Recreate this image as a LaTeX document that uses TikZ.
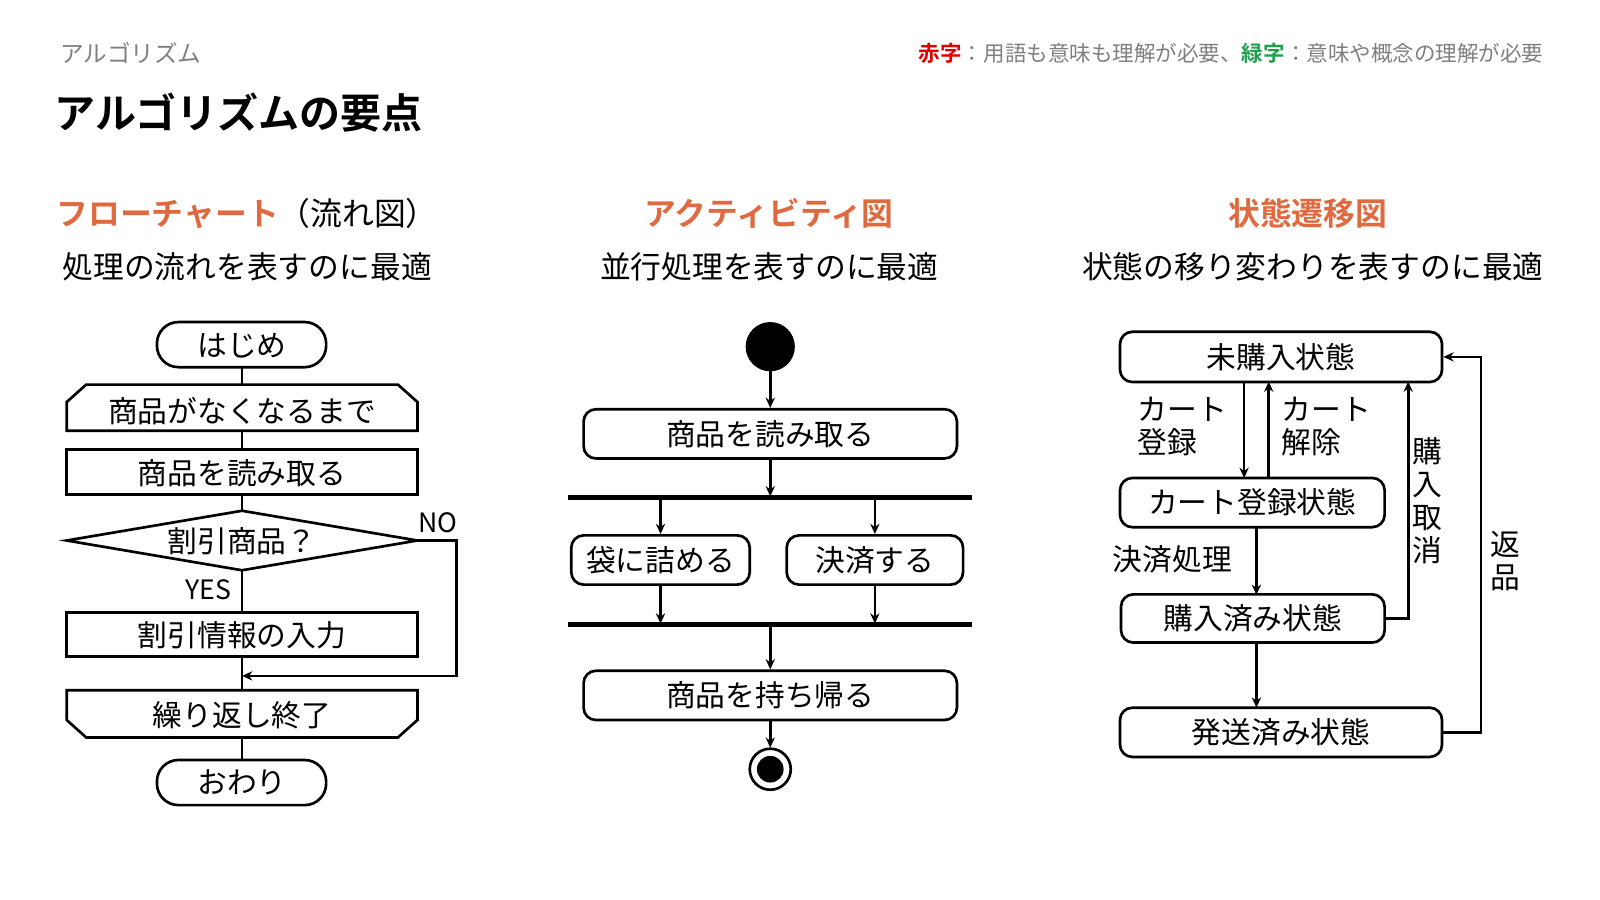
\documentclass[tikz,border=0pt]{standalone}
\usepackage{fontspec}
\setmainfont{Noto Sans CJK JP}
\newfontfamily\jpb{Noto Sans CJK JP Bold}
\usetikzlibrary{arrows.meta}
\definecolor{hd}{HTML}{E06A3F}
\definecolor{gr}{HTML}{7F7F7F}
\definecolor{rd}{HTML}{E00000}
\definecolor{gn}{HTML}{22A050}
\begin{document}
\begin{tikzpicture}[x=0.5pt,y=-0.5pt,
  ln/.style={line width=1.3pt},
  ar/.style={ln,-{Stealth[length=5pt,width=4.5pt]}},
  tx/.style={font=\fontsize{14.5}{16}\selectfont,inner sep=0},
  box/.style={ln,draw,rounded corners=6pt},
  hdr/.style={font=\fontsize{15.5}{18}\selectfont,text=hd},
  sub/.style={font=\fontsize{15}{18}\selectfont}]
\useasboundingbox (0,0) rectangle (1560,877.5);
\node[anchor=west,text=gr,font=\fontsize{11.5}{13}\selectfont] (crumb) at (52,52) {アルゴリズム};
\node[anchor=west,font=\jpb\fontsize{20}{24}\selectfont] (title) at (46,110) {アルゴリズムの要点};
\node[anchor=east,font=\fontsize{10.5}{13}\selectfont,text=gr] (legend) at (1512,52) {{\jpb\color{rd}赤字}：用語も意味も理解が必要、{\jpb\color{gn}緑字}：意味や概念の理解が必要};
\node[hdr] (h1) at (241,208) {\jpb フローチャート{\color{black}\rmfamily（流れ図）}};
\node[sub] (s1) at (241,260) {処理の流れを表すのに最適};
\node[hdr] (h2) at (750,208) {\jpb アクティビティ図};
\node[sub] (s2) at (750,260) {並行処理を表すのに最適};
\node[hdr] (h3) at (1275,208) {\jpb 状態遷移図};
\node[sub] (s3) at (1280,260) {状態の移り変わりを表すのに最適};
% flowchart
\draw[ln,rounded corners=10.5pt] (153,314) rectangle (318,358);
\node[tx] (f1) at (236,337) {はじめ};
\draw[ln] (65,420) -- (65,392) -- (84,375) -- (388,375) -- (407,392) -- (407,420) -- cycle;
\node[tx] (f2) at (236,401) {商品がなくなるまで};
\draw[ln] (65,438) rectangle (407,482);
\node[tx] (f3) at (236,461) {商品を読み取る};
\draw[ln] (65,527) -- (236,498) -- (407,527) -- (236,556) -- cycle;
\node[tx] (f4) at (236,528) {割引商品？};
\draw[ln] (65,597) rectangle (407,640);
\node[tx] (f5) at (236,619) {割引情報の入力};
\draw[ln] (65,673) -- (407,673) -- (407,702) -- (388,719) -- (84,719) -- (65,702) -- cycle;
\node[tx] (f6) at (236,697) {繰り返し終了};
\draw[ln,rounded corners=10.5pt] (153,741) rectangle (318,785);
\node[tx] (f7) at (236,763) {おわり};
\draw[ln] (236,358)--(236,375) (236,420)--(236,438) (236,482)--(236,498) (236,556)--(236,597) (236,640)--(236,673) (236,719)--(236,741);
\draw[ar] (407,527) -- (445,527) -- (445,659) -- (236,659);
\node[tx,font=\fontsize{13}{14}\selectfont] (no) at (427,510) {NO};
\node[tx,font=\fontsize{13}{14}\selectfont] (yes) at (203,575) {YES};
% activity
\fill (751,338) circle (24);
\node[box,minimum width=182pt,minimum height=24pt,tx] (a1) at (751,423) {商品を読み取る};
\draw[ar] (751,362) -- (a1.north);
\draw[line width=2.5pt] (554,485) -- (948,485);
\draw[line width=2.5pt] (554,609) -- (948,609);
\draw[ar] (a1.south) -- (751,484);
\node[box,minimum width=87pt,minimum height=24pt,tx] (a2) at (644,546) {袋に詰める};
\node[box,minimum width=86pt,minimum height=24pt,tx] (a3) at (853,546) {決済する};
\draw[ar] (644,486) -- (a2.north);
\draw[ar] (853,486) -- (a3.north);
\draw[ar] (a2.south) -- (644,608);
\draw[ar] (a3.south) -- (853,608);
\node[box,minimum width=182pt,minimum height=24pt,tx] (a4) at (751,678) {商品を持ち帰る};
\draw[ar] (751,610) -- (a4.north);
\draw[ln] (751,750) circle (20);
\fill (751,750) circle (13);
\draw[ar] (a4.south) -- (751,729);
% state
\node[box,minimum width=157pt,minimum height=24.5pt,tx] (t1) at (1249,348) {未購入状態};
\node[box,minimum width=129pt,minimum height=24pt,tx] (t2) at (1221,490) {カート登録状態};
\node[box,minimum width=128.5pt,minimum height=23.5pt,tx] (t3) at (1221.5,603) {購入済み状態};
\node[box,minimum width=157pt,minimum height=24pt,tx] (t4) at (1249,714) {発送済み状態};
\draw[ar] (1213,372) -- (1213,466);
\draw[ar] (1237,466) -- (1237,372);
\draw[ar] (1225,514) -- (1225,580);
\draw[ar] (1225,627) -- (1225,690);
\draw[ar] (t3.east) -- (1373,603) -- (1373,372);
\draw[ar] (t4.east) -- (1444,714) -- (1444,348) -- (t1.east);
\node[tx,align=left] (l1) at (1153,416) {カート\\登録};
\node[tx,align=left] (l2) at (1293,416) {カート\\解除};
\node[tx] (l3) at (1143,545) {決済処理};
\node[tx,align=center] (l4) at (1392,488) {購\\入\\取\\消};
\node[tx,align=center] (l5) at (1468,547) {返\\品};
\end{tikzpicture}
\end{document}
